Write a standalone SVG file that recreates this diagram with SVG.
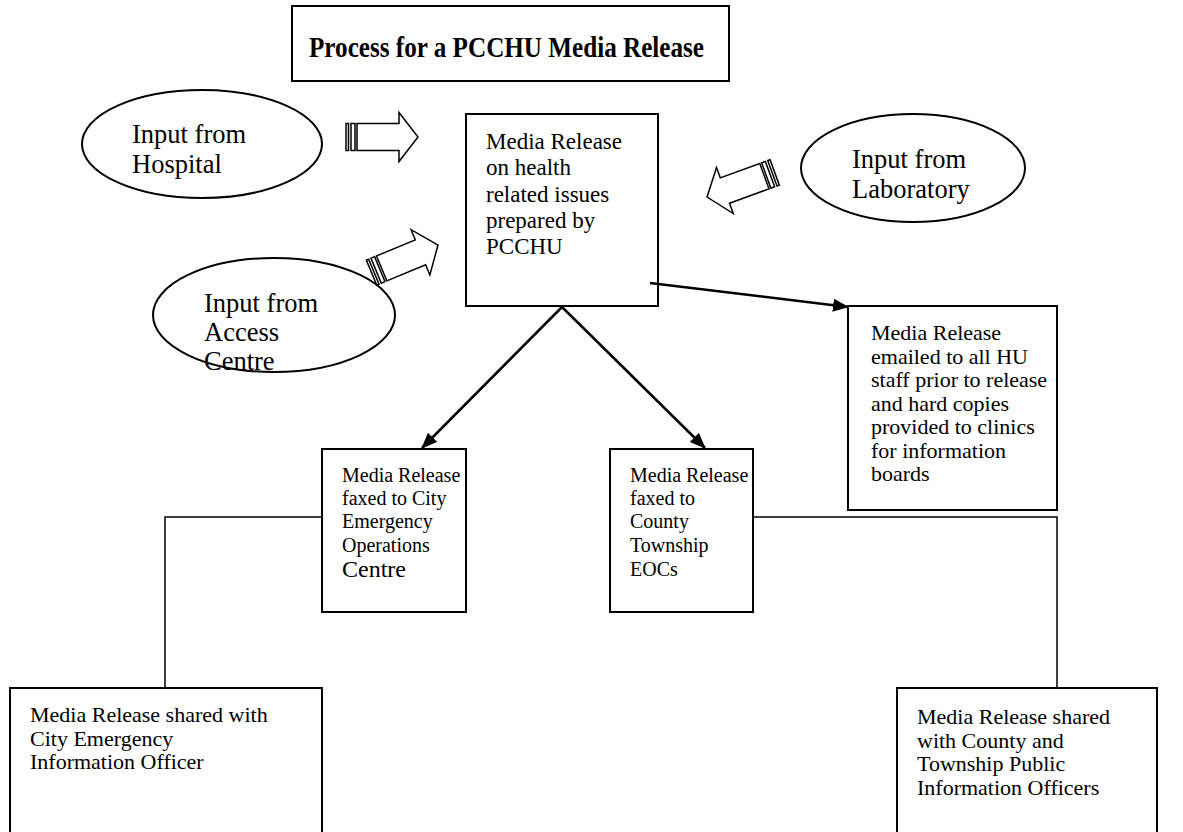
<svg xmlns="http://www.w3.org/2000/svg" width="1183" height="832" viewBox="0 0 1183 832">
<style>
  .bg { fill: #ffffff; }
  .box { fill: #ffffff; stroke: #000000; stroke-width: 2; }
  .ell { fill: #ffffff; stroke: #000000; stroke-width: 2; }
  .t { font-family: "Liberation Serif", "Times New Roman", serif; font-size: 22px; fill: #000000; }
  .ts { font-family: "Liberation Serif", "Times New Roman", serif; font-size: 20px; fill: #000000; }
  .tc { font-family: "Liberation Serif", "Times New Roman", serif; font-size: 23px; fill: #000000; }
  .te { font-family: "Liberation Serif", "Times New Roman", serif; font-size: 26.5px; fill: #000000; }
  .title { font-family: "Liberation Serif", "Times New Roman", serif; font-size: 29px; font-weight: bold; fill: #000000; }
  .conn { fill: none; stroke: #000000; stroke-width: 2.5; }
  .elbow { fill: none; stroke: #000000; stroke-width: 1.5; }
  .blk { fill: #ffffff; stroke: #000000; stroke-width: 1.5; stroke-linejoin: miter; }
</style>
<defs>
  <marker id="ah" markerUnits="userSpaceOnUse" markerWidth="16" markerHeight="14" refX="15" refY="6.5" orient="auto">
    <path d="M0,0 L16,6.5 L0,13 Z" fill="#000000"/>
  </marker>
  <g id="striped">
    <rect class="blk" x="0" y="-13.5" width="2.5" height="27"/>
    <rect class="blk" x="5" y="-13.5" width="4" height="27"/>
    <path class="blk" d="M11,-13.5 L53,-13.5 L53,-24.5 L72,0 L53,24.5 L53,13.5 L11,13.5 Z"/>
  </g>
</defs>
<rect class="bg" x="0" y="0" width="1183" height="832"/>

<g id="title">
  <rect class="box" x="292" y="6" width="437" height="75" stroke-width="1.5"/>
  <text class="title" x="309" y="57" textLength="395" lengthAdjust="spacingAndGlyphs">Process for a PCCHU Media Release</text>
</g>

<g id="hospital">
  <ellipse class="ell" cx="202" cy="144" rx="120" ry="54"/>
  <text class="te" x="132" y="143">Input from</text>
  <text class="te" x="132" y="173">Hospital</text>
</g>

<g id="laboratory">
  <ellipse class="ell" cx="913" cy="168" rx="112" ry="54"/>
  <text class="te" x="852" y="168">Input from</text>
  <text class="te" x="852" y="198">Laboratory</text>
</g>

<g id="access">
  <ellipse class="ell" cx="274" cy="315" rx="121" ry="57"/>
  <text class="te" x="204" y="312">Input from</text>
  <text class="te" x="204" y="341">Access</text>
  <text class="te" x="204" y="370">Centre</text>
</g>

<g id="central">
  <rect class="box" x="466" y="114" width="192" height="192"/>
  <text class="tc" x="486" y="149">Media Release</text>
  <text class="tc" x="486" y="175">on health</text>
  <text class="tc" x="486" y="202">related issues</text>
  <text class="tc" x="486" y="228">prepared by</text>
  <text class="tc" x="486" y="254">PCCHU</text>
</g>

<g id="emailed">
  <rect class="box" x="848" y="306" width="209" height="204"/>
  <text class="t" x="871" y="340">Media Release</text>
  <text class="t" x="871" y="363.5">emailed to all HU</text>
  <text class="t" x="871" y="387">staff prior to release</text>
  <text class="t" x="871" y="410.5">and hard copies</text>
  <text class="t" x="871" y="434">provided to clinics</text>
  <text class="t" x="871" y="457.5">for information</text>
  <text class="t" x="871" y="481">boards</text>
</g>

<g id="city">
  <rect class="box" x="322" y="449" width="144" height="163"/>
  <text class="ts" x="342" y="482">Media Release</text>
  <text class="ts" x="342" y="505">faxed to City</text>
  <text class="ts" x="342" y="528">Emergency</text>
  <text class="ts" x="342" y="552">Operations</text>
  <text class="ts" x="342" y="577" style="font-size:24px">Centre</text>
</g>

<g id="county">
  <rect class="box" x="610" y="449" width="143" height="163"/>
  <text class="ts" x="630" y="482">Media Release</text>
  <text class="ts" x="630" y="505">faxed to</text>
  <text class="ts" x="630" y="528">County</text>
  <text class="ts" x="630" y="552">Township</text>
  <text class="ts" x="630" y="576">EOCs</text>
</g>

<g id="city-officer">
  <rect class="box" x="10" y="688" width="312" height="150"/>
  <text class="t" x="30" y="722">Media Release shared with</text>
  <text class="t" x="30" y="746">City Emergency</text>
  <text class="t" x="30" y="769">Information Officer</text>
</g>

<g id="county-officers">
  <rect class="box" x="897" y="688" width="260" height="150"/>
  <text class="t" x="917" y="724">Media Release shared</text>
  <text class="t" x="917" y="748">with County and</text>
  <text class="t" x="917" y="771">Township Public</text>
  <text class="t" x="917" y="795">Information Officers</text>
</g>

<g id="connectors">
  <use href="#striped" transform="translate(346,137)"/>
  <use href="#striped" transform="translate(371.5,272.6) rotate(-22.5)"/>
  <use href="#striped" transform="translate(774.7,172.4) rotate(160)"/>
  <line class="conn" x1="650" y1="283" x2="848" y2="307" marker-end="url(#ah)"/>
  <line class="conn" x1="562" y1="307" x2="422" y2="448" marker-end="url(#ah)"/>
  <line class="conn" x1="562" y1="307" x2="705" y2="448" marker-end="url(#ah)"/>
  <polyline class="elbow" points="322,517 165,517 165,688"/>
  <polyline class="elbow" points="753,517 1057,517 1057,688"/>
</g>
</svg>
